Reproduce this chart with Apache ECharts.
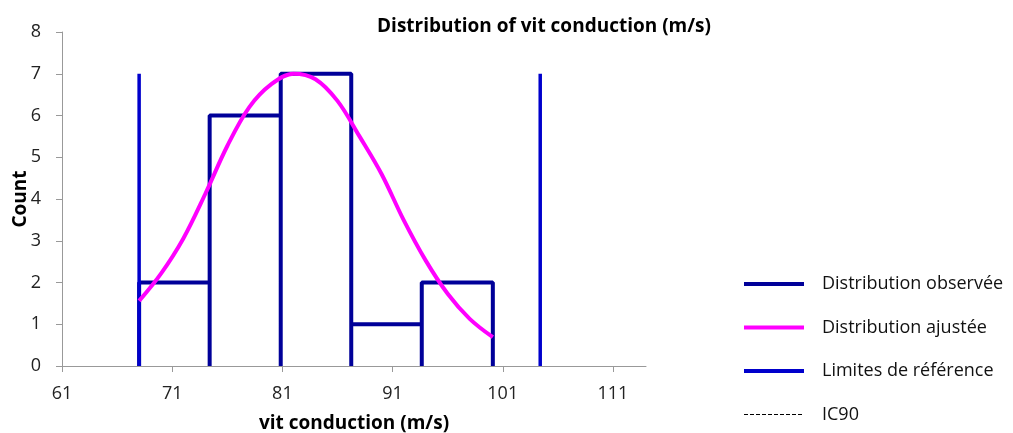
<!DOCTYPE html>
<html>
<head>
<meta charset="utf-8">
<script src="https://cdn.jsdelivr.net/npm/echarts@6/dist/echarts.min.js"></script>
<style>
html, body { margin: 0; padding: 0; background: #fff; }
#chart { width: 1013px; height: 433px; }
</style>
</head>
<body>
<div id="chart"></div>
<script>
// histogram bins (edges) and observed counts
var binEdges = [68.0, 74.4, 80.85, 87.25, 93.65, 100.1];
var counts = [2, 6, 7, 1, 2];

// fitted distribution
var fitX = [68.0, 70, 72, 74, 76, 78, 80, 82, 84, 86, 88, 90, 92, 94, 96, 98, 100.1];
var fitY = [1.56, 2.22, 3.05, 4.12, 5.27, 6.2, 6.75, 7.0, 6.87, 6.35, 5.5, 4.6, 3.5, 2.53, 1.73, 1.13, 0.69];

// reference limits
var limits = [68.0, 104.4];
var limitHeight = 7;

var font = 'Open Sans';

// outline of the histogram, every edge goes back down to 0
var histPath = [[binEdges[0], 0]];
for (var i = 0; i < counts.length; i++) {
	histPath.push([binEdges[i], counts[i]]);
	histPath.push([binEdges[i + 1], counts[i]]);
	histPath.push([binEdges[i + 1], 0]);
}

var fitData = fitX.map(function (x, i) { return [x, fitY[i]]; });

var myChart = echarts.init(document.getElementById('chart'));

var limitSeries = limits.map(function (x) {
	return {
		name: 'Limites de référence',
		type: 'line',
		symbol: 'none',
		data: [[x, 0], [x, limitHeight]],
		lineStyle: { color: '#0000cc', width: 3.5 },
		itemStyle: { color: '#0000cc' },
		z: 3
	};
});

var option = {
	animation: false,
	textStyle: { fontFamily: font },
	title: {
		text: 'Distribution of vit conduction (m/s)',
		left: 539,
		top: 12,
		textAlign: 'center',
		textStyle: { fontSize: 19, fontWeight: 'bold', color: '#000', fontFamily: font }
	},
	legend: {
		orient: 'vertical',
		left: 737,
		top: 270,
		itemWidth: 60,
		itemHeight: 14,
		itemGap: 25.5,
		itemStyle: { opacity: 0 },
		textStyle: { fontSize: 18, color: '#111', fontFamily: font, padding: [0, 0, 0, 13] },
		data: [
			{ name: 'Distribution observée', lineStyle: { width: 4 } },
			{ name: 'Distribution ajustée', lineStyle: { width: 4 } },
			{ name: 'Limites de référence', lineStyle: { width: 4 } },
			{ name: 'IC90', lineStyle: { width: 1.2 } }
		]
	},
	grid: {
		left: 62,
		right: 367,
		top: 32,
		bottom: 67,
		outerBoundsMode: 'none'
	},
	xAxis: {
		type: 'value',
		min: 61,
		max: 114,
		interval: 10,
		name: 'vit conduction (m/s)',
		nameLocation: 'middle',
		nameGap: 48,
		nameTextStyle: { fontSize: 19, fontWeight: 'bold', color: '#000', fontFamily: font },
		axisLine: { lineStyle: { color: '#999', width: 1 } },
		axisTick: { show: true, length: 6, lineStyle: { color: '#999' } },
		axisLabel: { fontSize: 18, color: '#222', margin: 19, showMaxLabel: false },
		splitLine: { show: false }
	},
	yAxis: {
		type: 'value',
		min: 0,
		max: 8,
		interval: 1,
		name: 'Count',
		nameLocation: 'middle',
		nameGap: 32,
		nameMoveOverlap: false,
		nameRotate: 90,
		nameTextStyle: { fontSize: 19, fontWeight: 'bold', color: '#000', fontFamily: font },
		axisLine: { show: true, lineStyle: { color: '#999', width: 1 } },
		axisTick: { show: true, length: 6, lineStyle: { color: '#999' } },
		axisLabel: { fontSize: 18, color: '#222', margin: 21 },
		splitLine: { show: false }
	},
	series: [
		{
			name: 'Distribution observée',
			type: 'line',
			symbol: 'none',
			data: histPath,
			lineStyle: { color: '#000099', width: 4 },
			itemStyle: { color: '#000099' },
			z: 2
		},
		{
			name: 'Distribution ajustée',
			type: 'line',
			symbol: 'none',
			smooth: 0.35,
			data: fitData,
			lineStyle: { color: '#ff00ff', width: 4 },
			itemStyle: { color: '#ff00ff' },
			z: 4
		}
	].concat(limitSeries).concat([
		{
			name: 'IC90',
			type: 'line',
			symbol: 'none',
			data: [],
			lineStyle: { color: '#000', width: 1, type: [4, 2] },
			itemStyle: { color: '#000' }
		}
	])
};

myChart.setOption(option);
</script>
</body>
</html>
